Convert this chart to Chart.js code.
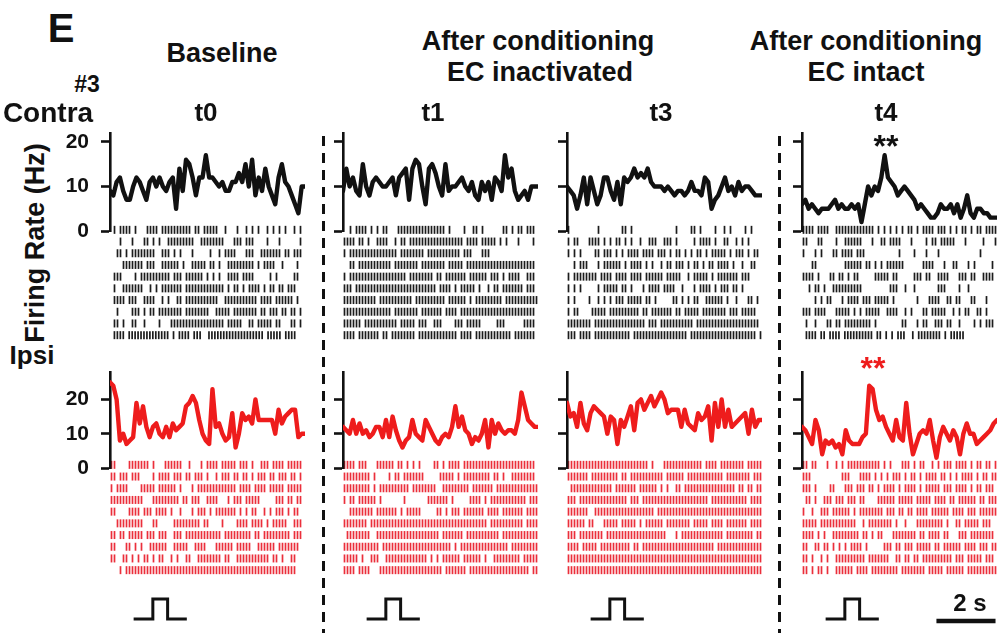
<!DOCTYPE html>
<html>
<head>
<meta charset="utf-8">
<script src="https://cdn.jsdelivr.net/npm/chart.js@4.4.1/dist/chart.umd.min.js"></script>
<style>
  body { margin: 0; width: 998px; height: 633px; overflow: hidden; background: #fff; position: relative; }
  canvas { position: absolute; }
  .lbl { position: absolute; font-family: Arial, "Liberation Sans", sans-serif; font-weight: bold; color: #111;
         line-height: 1; white-space: nowrap; transform: translate(-50%, -50%); }
  .dash { position: absolute; width: 3px; background: repeating-linear-gradient(to bottom, #111 0 10px, transparent 10px 17px); }
</style>
</head>
<body>
<script>
// time span of each trace (s)
const timeSpan = 6.6;
const rateTicks = [0, 10, 20];

// firing rate (Hz), contralateral (black)
const contraT0 = [9,8,11,12,9,7,7,10,12,11,9,7,11,12,10,12,10,9,11,12,5,14,9,16,15,12,8,12,12,17,12,12,11,10,11,9,9,11,11,13,11,15,10,16,8,12,9,14,10,8,6,12,15,11,10,8,6,4,10,10];
const contraT1 = [9,14,10,12,9,8,15,10,8,11,12,11,10,10,11,12,8,12,13,14,7,14,16,15,10,6,14,15,13,10,8,15,9,10,10,11,12,10,9,11,8,7,11,9,11,7,12,11,9,17,12,14,9,7,8,9,7,10,10,10];
const contraT3 = [10,9,8,5,8,12,6,12,9,6,8,12,12,9,7,11,6,12,11,12,14,12,13,12,14,11,10,10,10,9,10,9,8,9,9,8,9,11,9,9,8,12,11,5,7,8,10,12,9,10,8,11,9,10,10,9,8,8,8];
const contraT4 = [6,7,5,6,5,4,5,5,5,6,7,5,6,5,5,6,5,6,2,6,10,8,10,9,12,17,12,11,10,8,9,10,9,8,7,5,6,5,4,3,3,4,6,5,5,6,4,6,3,5,8,4,3,5,5,4,4,3,3,3];

// firing rate (Hz), ipsilateral (red)
const ipsiT0 = [25,24,20,8,10,7,8,9,19,13,18,12,9,12,13,10,9,12,9,13,11,12,13,18,19,21,19,14,10,8,7,23,12,13,10,8,9,16,6,10,16,14,15,13,20,14,14,14,14,14,10,17,13,15,16,17,17,9,10,10];
const ipsiT1 = [12,11,10,14,10,13,10,11,9,10,12,12,9,14,9,15,11,8,6,8,9,14,10,9,8,14,12,10,8,7,9,10,9,12,18,12,15,11,10,7,9,8,10,14,6,14,10,13,11,10,11,11,10,14,22,18,14,13,12,12];
const ipsiT3 = [19,15,16,12,19,13,11,16,18,17,16,15,10,15,14,7,14,12,15,18,11,19,20,17,19,21,18,20,22,20,16,17,17,17,12,17,13,12,11,16,14,15,18,8,19,12,20,12,17,12,13,14,15,16,10,17,12,14,14];
const ipsiT4 = [12,11,9,7,14,11,4,8,7,8,6,7,4,11,8,7,7,7,9,10,24,23,17,14,15,12,10,8,14,9,8,19,10,4,7,10,11,10,14,8,3,9,12,10,8,11,9,4,10,13,10,10,7,8,9,10,11,13,14];

// spike rasters, one string per trial, '|' = spike in that time bin
const contraRasterT0 = [
  ".|.||||.|...||||.||||||||||.||.|||||..|...|..|.|.|..|.|.|.|..|.|.",
  "...|...|...||.|.|..|||||||||..||||||||...|||.|||....|...|......|.",
  "..||.|.||||||||..|||.|.|...|.....|..|.||||...|||..|||||||.||.|||.",
  "....|||||||.|||..||||||.|..|||||.||.|..|||||||||.|.||||..|....|..",
  ".|||....|.||||||||||.|||.||||||.|.|.|..||||.||||.....|.|.....||..",
  ".|..|||||||..|.|.|||||||.|||||||||||||.|.||.|.||||.|.||.||.|||...",
  ".||||.|||..||||..|.|..||.|||||||||||..|||||||||||.||||.||||||.|..",
  "..|....|||.|.||.||||||||.||||||||..|||||.||||||||.||.|||.||.||.|.",
  ".||.|..||..|....|...||||||||||||||||||.|||||..||.|||||.||...||.|.",
  ".||||.||||||||||||||.|.||||.|||..|||||||||||||||||||.|||||.||||..."
];
const contraRasterT1 = [
  "..|.||||.|.|.||...||||||||||||||||.|....|..||.|......||.|.||.|||.",
  "||||.||.|..||||..|.||.||||||||||||||||||.||||.|||||.|.|...|....|.",
  "|.||||||||||||||||.||||||||.|||||||||||.|||...|||................",
  "..||.|||||||||||.||||||||.||||||||.|||||.|||||||||||||||||||||||.",
  "|.|||||||||||||||||||.||||||||.||.|||||||.||||||.|||.|.||||..|||.",
  "|||.|||||||||||||||||||||||||||.||||.|.|||||.|..|.||.|||||||.|||.",
  "|||||||||||.|||||||||||.||||||||||.||||||.|.|||||||||.|||||||||||",
  "||||||||||||||||.||||||||.|||||||.||||.|||||||||||||||||||||||||.",
  "||||||.|||||||||||.|||||.|||..|||....|||.|||||.....|||......||||.",
  "||||.|||||||.||.||||||||.|||||||||||||.||||.||||||||||||.|||||||."
];
const contraRasterT3 = [
  "|.........|.......||.|..............|....||.|....|..|.|....|.|...",
  "|.||...||||.|.|.||.|.|..|..|||..|||.|.....|.||||.|..||..|.|.|....",
  "|.|.|....||.|||.|.|.||||.||||.|||.|.||.|.|.||.|.|||||.|.|||.|.||.",
  "..|.|||...|.||||||.|.||||.|.|..|.||.|||.|.||.|.||.||||.|..|..||..",
  "|.||||||||.||||.||||.||||.||||||.|||||..|.|||||.|.|||||||.|||....",
  "|.|.|.....|.|||||.||.|...|.||||.||||..|...|.||||.|.|||.||.|......",
  "|.|....|..|.|.|.|||.|||||.||.|.....||.|.|.||..||||||.|..|...||.|.",
  "|.||....|||||.||||||||||.||.|||||||.||.|||||.||||||||.|||.|||||..",
  "||||||||.|||||||||||||||||.|||.|||||||||||.|||||||||||||||||||||.",
  "|||.||||.||||||||||||.||||||||||||||||||.||||||||||||||||||||||.|"
];
const contraRasterT4 = [
  "||||.||||..|||||||||||||.|.|.|.|.|.||.|.||||.|||.|.|.||.|.||.||||",
  "||...||....|..||||||...|..||.||||...|....|.||.|||||...|.....|...|",
  "|...|.|...||.||||.|||...........|....|...|...|.............|.....",
  "...||.........||||||.||.|.|.||||||......||||...|..||...|.|.....|.",
  "||||.|...||.||.|.||.....|||||.||.....|||.||..||||...|||.||..||||.",
  "..|.||.|..||||||||||.........|||..|..|.......|||....|..|.........",
  "....|.|.||...|.||||.|||.|||||.|.......|...||||..||.||...||...|...",
  "|||.||||...|||||.|.|.|||||..||||..|.|...||.|||||..|.|.||..||.|...",
  ".|..|...||.||.|||||||||.|........||...|.||..|||.||..|....|.|.|||.",
  ".||||.||.||||.||||||||||.||.|.|.|||..|.||||||||.|.|||||..........."
];
const ipsiRasterT0 = [
  "||....|||||||.|...||||||..|...|.||||.|||||.|||.|..|||.||||.|||||.",
  "||.|||.|||....|.||||.|||.||.|||.|..|.|||.||.||.|.|||.||.|||.||.|.",
  "|.||||....|||||.||||||.|...|.|||||||||||||.||||.||||.|||||.|||||.",
  "|||||||||||...|||||||||.||.|||..||||...|.|||.|||||.....|||.||.||.",
  "||....||||.|||.||||.|..|...|.|||.|.|||||||.|.|.||..|.|.|||.|.||..",
  "..|||||||||...||.....|||||||||.||....|....||||.||||.|.|||||..|||.",
  "||.||.|||||.|||.|||..|||.||||||||||||.|||||||||.||.|||||||||.|||.",
  "||...||.|.|..||||||..|||||..||||...||||||.|||||..||||||.|||||||..",
  "||..||.|.|.||.|.||..|.|..||..||||||||.||..|||||||||||.||.|..||...",
  "...|.|||||||||||||||||||||||||||||||||||||||||||||||||||||||||..."
];
const ipsiRasterT1 = [
  "||||.|||...||||||.||.|.|.|....||.|.||||.||||||||||||||||||||||||.",
  "|||||||||.|....|.||.|||||||.....|||||.|.|||||||||.||.|..||||||||.",
  "|||||||||.|.||||||||||.||||||||..|||||||||.|||||||.||||||||||||||",
  "|.||.||||||.|.......|.......|||||||.|.....||||.|.||||||||||||.|||",
  "..||||||||.|||||||.|.|||||.....||.|.|||.|||||||.||||.|||||||.||||",
  "||||||||.|||||||||||||||||||||||||||||||||||||||.|||||||||||.||||",
  ".||||||||..|||||||||||||||||||||.|||||||.|||||||||||.||||||||||||",
  "||||||||||||.|||||||||||||||||||||||.|.||||||||||||||||.|||||||||",
  "|||||.|..|||..||||||||||||||.|.|.||||||.||||||.|..|||||||||.|||||",
  "||||.||||...|||||||||||||||||||||.|||||||.||||||||||||||||||||.||"
];
const ipsiRasterT3 = [
  "|||||||||||||||||||||||||||.|...|||||||||||||.||||.||||||||.|||||",
  "|||||||.|||||||||.||.|||||||||||.||||||.||||||||||||.||||||||.|||",
  ".||||||||||||||.|||||||.||||||.|.|..||.|||||||||||||||||.||.||.||",
  "|||.||||||||||||||||.|||.||||||||||||||||||||||.||||||||||||.||||",
  "|||||||..||||||||||||||||||||.|||||||||||||||||||||||||||||||||||",
  "||||||.||...|||||.|||||.|.||||||.||||||||.|||||.||||.|||||||.||||",
  "|||.||||||||.||||||||||||||||||||...|.||||||||||||||.|||||||||.||",
  "||||.|||||.||||||||||.||.||||||||||||||||||||||||.|||||||||||||||",
  "|||||||||||||||||||||||||||||||||||||||||||||||||||||||||||||||||",
  "|||||||||||||||||||||||||||||||||||||||||||||||||||||||||||||||||"
];
const ipsiRasterT4 = [
  "||.||...|..|.|.|||||||||||.|.|...|||.|.||..|.|.|||.||||.|.||.||.|",
  "|||..........|||...||||.|.|.|.|||.|.||.|.||||.||.|.|.||||.|.||.||",
  "|||.|....||...|||.|||.||.|.||||.|.||||.|.|||||.|||.||||.|.||.|||.",
  ".||.|..|||.|||.|||.||....||||||.|||||.|||||.||||.||.||||||.||.|||",
  "|..|..|||.||||||.|.||||||||.|||.||.||.||||.||||||.||||.|||.||||||",
  "|||||.||||||||||||..|.||||||||.|..|...|||||||||.|..||.|||||.|||..",
  "||||.|.|..|||||||||.||.|.||...||||||||.||.||||.||...|||.||||||||.",
  "||..||.||.|.|.|.||||.|.....|||.||.|||.|||||.||.||||||.||||.|||.||",
  "||.|..|.|..||||||||||.|||||||..||.||.||.||||||||||.|||.|||||.|||.",
  "||.|.||.|..||||||.||||.|||||||||.||||||||.|||||.||||||.||||||||||"
];

// stimulus pulse (s, relative level) and scale bar (s)
const pulseX = [0.8, 1.45, 1.45, 1.95, 1.95, 2.6];
const pulseY = [0, 0, 1, 1, 0, 0];
const scaleBarX = [4.55, 6.55];

const FONT = 'Arial, "Liberation Sans", sans-serif';
const colAxisX = [110, 343, 567, 802];
const plotW = 195;
const AXW = 50;
const BLACK = '#111111';
const RED = '#ee1c1c';

function makeChart(left, top, width, height, config) {
  const c = document.createElement('canvas');
  c.width = width; c.height = height;
  c.style.left = left + 'px'; c.style.top = top + 'px';
  document.body.appendChild(c);
  config.options.responsive = false;
  config.options.animation = false;
  config.options.plugins = { legend: { display: false }, tooltip: { enabled: false } };
  return new Chart(c.getContext('2d'), config);
}

function ratePanel(col, values, yMax, areaTop, areaBottom, color) {
  const pad = 14;
  const data = values.map((v, i) => ({ x: i * timeSpan / (values.length - 1), y: v }));
  makeChart(colAxisX[col] - AXW, areaTop - pad, AXW + plotW + 6, areaBottom - areaTop + 2 * pad, {
    type: 'line',
    data: { datasets: [{ data, borderColor: color, borderWidth: 4.4, pointRadius: 0, tension: 0,
                         borderJoinStyle: 'round', borderCapStyle: 'round' }] },
    options: {
      layout: { padding: { left: 0, right: 6, top: pad, bottom: pad } },
      scales: {
        x: { type: 'linear', min: 0, max: timeSpan, display: false },
        y: {
          min: 0, max: yMax,
          afterFit: s => { s.width = AXW; s.paddingTop = 0; s.paddingBottom = 0; },
          afterBuildTicks: s => { s.ticks = rateTicks.map(v => ({ value: v })); },
          border: { display: true, color: BLACK, width: 2.6 },
          grid: { drawOnChartArea: false, drawTicks: true, tickLength: 9, tickWidth: 2.6, tickColor: BLACK },
          ticks: { display: col === 0, color: BLACK, padding: 12, font: { family: FONT, size: 21, weight: 'bold' } }
        }
      }
    }
  });
}

function rasterPanel(col, rows, areaTop, color) {
  const rowH = 11.7, pad = 8;
  const points = [];
  rows.forEach((row, r) => {
    for (let i = 0; i < row.length; i++) {
      if (row[i] === '|') points.push({ x: (i + 0.5) * timeSpan / row.length, y: r });
    }
  });
  makeChart(colAxisX[col] - AXW, areaTop - pad, AXW + plotW + 6, rows.length * rowH + 2 * pad, {
    type: 'scatter',
    data: { datasets: [{ data: points, showLine: false, pointStyle: 'line', pointRotation: 90, pointRadius: 4,
                         pointBorderColor: color, pointBorderWidth: 1.7, pointHoverRadius: 4 }] },
    options: {
      layout: { padding: { left: AXW, right: 6, top: pad, bottom: pad } },
      scales: {
        x: { type: 'linear', min: 0, max: timeSpan, display: false },
        y: { min: -0.5, max: rows.length - 0.5, reverse: true, display: false }
      }
    }
  });
}

function pulsePanel(col, withBar) {
  const pad = 8, areaTop = 599, areaBottom = 619;
  const datasets = [{ data: pulseX.map((x, i) => ({ x, y: pulseY[i] })), borderColor: BLACK, borderWidth: 3, pointRadius: 0, tension: 0 }];
  if (withBar) datasets.push({ data: scaleBarX.map(x => ({ x, y: -0.1 })), borderColor: BLACK, borderWidth: 4.5, pointRadius: 0 });
  makeChart(colAxisX[col] - AXW, areaTop - pad, AXW + plotW + 6, areaBottom - areaTop + 2 * pad, {
    type: 'line',
    data: { datasets },
    options: {
      layout: { padding: { left: AXW, right: 6, top: pad, bottom: pad } },
      scales: {
        x: { type: 'linear', min: 0, max: timeSpan, display: false },
        y: { min: 0, max: 1, display: false }
      },
      clip: false
    }
  });
}

const contra = [contraT0, contraT1, contraT3, contraT4];
const ipsi = [ipsiT0, ipsiT1, ipsiT3, ipsiT4];
const contraRasters = [contraRasterT0, contraRasterT1, contraRasterT3, contraRasterT4];
const ipsiRasters = [ipsiRasterT0, ipsiRasterT1, ipsiRasterT3, ipsiRasterT4];

for (let c = 0; c < 4; c++) {
  rasterPanel(c, contraRasters[c], 224, '#1c1c1c');
  ratePanel(c, contra[c], 22, 133, 231, BLACK);
  rasterPanel(c, ipsiRasters[c], 459, 'rgba(232,10,25,0.85)');
  ratePanel(c, ipsi[c], 28, 372, 468, RED);
  pulsePanel(c, c === 3);
}

// dashed separators
[323, 779].forEach(x => {
  const d = document.createElement('div');
  d.className = 'dash';
  d.style.left = (x - 1.5) + 'px'; d.style.top = '136px'; d.style.height = '497px';
  document.body.appendChild(d);
});

// text
function label(text, x, y, size, color, rotate) {
  const d = document.createElement('div');
  d.className = 'lbl';
  d.textContent = text;
  d.style.left = x + 'px'; d.style.top = y + 'px';
  d.style.fontSize = size + 'px';
  if (color) d.style.color = color;
  if (rotate) d.style.transform = 'translate(-50%, -50%) rotate(-90deg)';
  document.body.appendChild(d);
}
label('E', 61, 28, 40);
label('Baseline', 222, 53, 27);
label('After conditioning', 538, 41, 27);
label('EC inactivated', 540, 72, 27);
label('After conditioning', 866, 41, 27);
label('EC intact', 866, 72, 27);
label('#3', 87, 84, 23);
label('Contra', 48, 113, 28);
label('t0', 206, 112, 26);
label('t1', 433, 112, 26);
label('t3', 661, 112, 26);
label('t4', 886, 112, 26);
label('Firing Rate (Hz)', 35, 243, 27, null, true);
label('Ipsi', 32, 355, 26);
label('**', 886, 146, 32);
label('**', 873, 368, 32, RED);
label('2 s', 970, 603, 24);
</script>
</body>
</html>
